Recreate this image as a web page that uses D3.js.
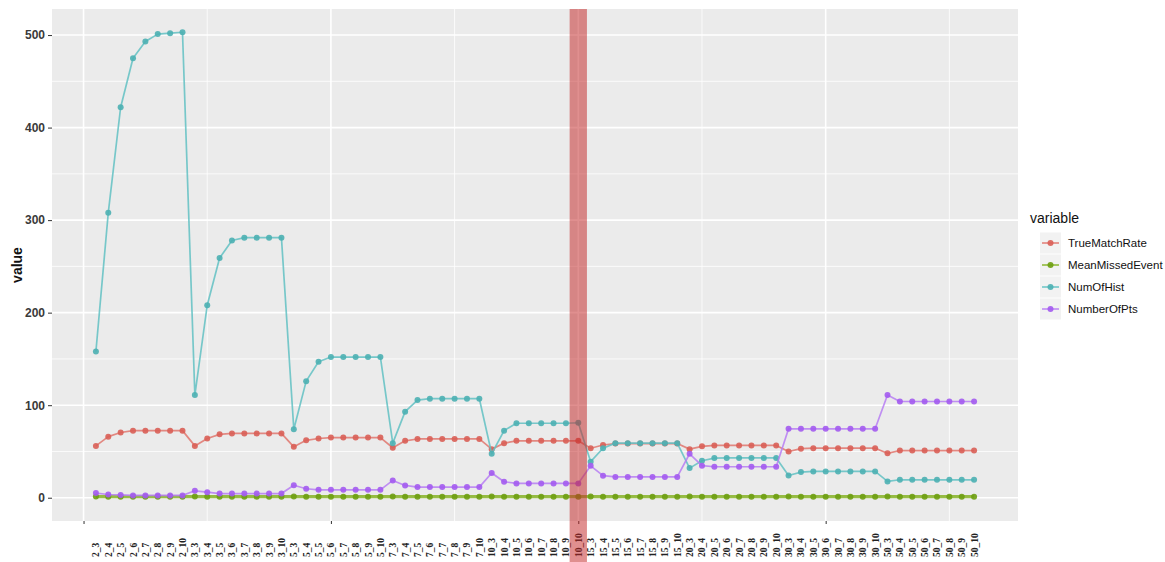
<!DOCTYPE html>
<html>
<head>
<meta charset="utf-8">
<script src="https://cdn.jsdelivr.net/npm/d3@7"></script>
<style>
  html, body { margin: 0; padding: 0; background: #ffffff; }
  svg { display: block; }
</style>
</head>
<body>
<svg id="chart" width="1165" height="562"></svg>
<script>
// Parameter combinations (first_second), in plotting order
const groupsA = ["2", "3", "5", "7", "10", "15", "20", "30", "50"];
const groupsB = ["3", "4", "5", "6", "7", "8", "9", "10"];
const categories = [];
groupsA.forEach(a => groupsB.forEach(b => categories.push(a + "_" + b)));

const seriesNames = ["TrueMatchRate", "MeanMissedEvent", "NumOfHist", "NumberOfPts"];
const lineColors = ["#E0776F", "#86B326", "#62C1C3", "#B77EF3"];
const pointColors = ["#D95F57", "#6E9E12", "#4DB0B2", "#A35BEF"];

const trueMatchRate = [
  56, 66, 70.5, 72.5, 72.5, 72.5, 72.5, 72.5,
  56, 64, 68.5, 69.5, 69.5, 69.5, 69.5, 69.5,
  55, 62, 64, 65, 65, 65, 65, 65,
  54, 61.5, 63.5, 63.5, 63.5, 63.5, 63.5, 63.5,
  52.5, 59, 61.5, 61.5, 61.5, 61.5, 61.5, 61.5,
  53.5, 57, 58.5, 58.5, 58.5, 58.5, 58.5, 58.5,
  52.5, 55.5, 56.5, 56.5, 56.5, 56.5, 56.5, 56.5,
  50, 53, 53.5, 53.5, 53.5, 53.5, 53.5, 53.5,
  48, 51, 51, 51, 51, 51, 51, 51
];
const meanMissedEvent = [
  1.2, 1.1, 1.1, 1.1, 1.1, 1.1, 1.1, 1.1,
  1.2, 1.1, 1.1, 1.1, 1.1, 1.1, 1.1, 1.1,
  1.2, 1.1, 1.1, 1.1, 1.1, 1.1, 1.1, 1.1,
  1.2, 1.1, 1.1, 1.1, 1.1, 1.1, 1.1, 1.1,
  1.2, 1.1, 1.1, 1.1, 1.1, 1.1, 1.1, 1.1,
  1.2, 1.1, 1.1, 1.1, 1.1, 1.1, 1.1, 1.1,
  1.2, 1.1, 1.1, 1.1, 1.1, 1.1, 1.1, 1.1,
  1.2, 1.1, 1.1, 1.1, 1.1, 1.1, 1.1, 1.1,
  1.2, 1.1, 1.1, 1.1, 1.1, 1.1, 1.1, 1.1
];
const numOfHist = [
  158, 308, 422, 475, 493, 501, 502, 503,
  111, 208, 259, 278, 281, 281, 281, 281,
  74, 126, 147, 152, 152, 152, 152, 152,
  59, 93, 105.5, 107, 107, 107, 107, 107,
  47.5, 72.5, 80.5, 80.5, 80.5, 80.5, 80.5, 81,
  39, 53.5, 59, 59, 59, 59, 59, 59,
  32, 40, 42.8, 43, 43, 43, 43, 43,
  24, 27.7, 28.4, 28.4, 28.4, 28.4, 28.4, 28.4,
  17.6, 19.4, 19.4, 19.4, 19.4, 19.4, 19.4, 19.4
];
const numberOfPts = [
  5, 3.5, 3, 2.5, 2.5, 2.5, 2.5, 2.5,
  7.5, 6, 4.5, 4.5, 4.5, 4.5, 4.5, 4.5,
  13.5, 9.7, 8.5, 8.5, 8.5, 8.5, 8.5, 8.5,
  18.7, 13.3, 11.5, 11.5, 11.5, 11.5, 11.5, 11.5,
  26.7, 17.3, 15.5, 15.5, 15.5, 15.5, 15.5, 15.5,
  34.5, 23.8, 22.5, 22.5, 22.5, 22.5, 22.5, 22.5,
  47.5, 34.6, 33.5, 33.5, 33.5, 33.5, 33.5, 33.5,
  74.5, 74.5, 74.5, 74.5, 74.5, 74.5, 74.5, 74.5,
  111, 104, 104, 104, 104, 104, 104, 104
];
const seriesValues = [trueMatchRate, meanMissedEvent, numOfHist, numberOfPts];

const yTicks = [0, 100, 200, 300, 400, 500];
const yMinor = [50, 150, 250, 350, 450];
const xTicks = [0, 20, 40, 60];
const xMinor = [10, 30, 50, 70];
const highlighted = "10_10";

const svg = d3.select("#chart");
const panel = { left: 52, right: 1018, top: 9, bottom: 521 };

const n = categories.length;
const xPad = (n - 1) * 0.05;
const x = d3.scaleLinear().domain([1 - xPad, n + xPad]).range([panel.left, panel.right]);
const yMax = d3.max(numOfHist);
const yPad = yMax * 0.05;
const y = d3.scaleLinear().domain([-yPad, yMax + yPad]).range([panel.bottom, panel.top]);

// panel background
svg.append("rect")
  .attr("x", panel.left).attr("y", panel.top)
  .attr("width", panel.right - panel.left).attr("height", panel.bottom - panel.top)
  .attr("fill", "#EBEBEB");

const grid = svg.append("g");
yMinor.forEach(v => grid.append("line")
  .attr("x1", panel.left).attr("x2", panel.right)
  .attr("y1", y(v)).attr("y2", y(v))
  .attr("stroke", "#fff").attr("stroke-width", 0.8));
xMinor.forEach(v => grid.append("line")
  .attr("y1", panel.top).attr("y2", panel.bottom)
  .attr("x1", x(v)).attr("x2", x(v))
  .attr("stroke", "#fff").attr("stroke-width", 0.8));
yTicks.forEach(v => grid.append("line")
  .attr("x1", panel.left).attr("x2", panel.right)
  .attr("y1", y(v)).attr("y2", y(v))
  .attr("stroke", "#fff").attr("stroke-width", 1.6));
xTicks.forEach(v => grid.append("line")
  .attr("y1", panel.top).attr("y2", panel.bottom)
  .attr("x1", x(v)).attr("x2", x(v))
  .attr("stroke", "#fff").attr("stroke-width", 1.6));

// series lines and points
const line = d3.line().x((d, i) => x(i + 1)).y(d => y(d));
seriesValues.forEach((vals, s) => {
  const g = svg.append("g");
  g.append("path")
    .datum(vals)
    .attr("d", line)
    .attr("fill", "none")
    .attr("stroke", lineColors[s])
    .attr("stroke-opacity", 0.85)
    .attr("stroke-width", s === 1 ? 3.2 : 1.7)
    .attr("stroke-linejoin", "round");
  g.selectAll("circle")
    .data(vals)
    .join("circle")
    .attr("cx", (d, i) => x(i + 1))
    .attr("cy", d => y(d))
    .attr("r", 3)
    .attr("fill", pointColors[s])
    .attr("fill-opacity", 0.9);
});

// y axis
const yAxis = d3.axisLeft(y).tickValues(yTicks).tickSize(4).tickPadding(3);
const ya = svg.append("g").attr("transform", `translate(${panel.left},0)`).call(yAxis);
ya.select(".domain").remove();
ya.selectAll("line").attr("stroke", "#333").attr("stroke-width", 1);
ya.selectAll("text")
  .attr("fill", "#3a3a3a")
  .attr("font-family", "Liberation Sans, Arial, sans-serif")
  .attr("font-size", 12).attr("font-weight", "bold");

// x axis ticks (no numeric labels)
const xAxis = d3.axisBottom(x).tickValues(xTicks).tickSize(3).tickFormat("");
const xa = svg.append("g").attr("transform", `translate(0,${panel.bottom})`).call(xAxis);
xa.select(".domain").remove();
xa.selectAll("line").attr("stroke", "#333");

// category labels
const lbl = svg.append("g");
categories.forEach((c, i) => {
  lbl.append("text")
    .attr("transform", `translate(${x(i + 1) + 3.5},557) rotate(-90)`)
    .attr("text-anchor", "start")
    .attr("font-family", "Liberation Serif, Times New Roman, serif")
    .attr("font-size", 9.5)
    .attr("font-weight", "bold")
    .attr("fill", "#222")
    .text(c);
});

// highlight band over the selected combination
const hi = categories.indexOf(highlighted) + 1;
svg.append("rect")
  .attr("x", x(hi - 0.7)).attr("y", panel.top)
  .attr("width", x(hi + 0.7) - x(hi - 0.7))
  .attr("height", 562 - panel.top)
  .attr("fill", "rgb(195,40,40)")
  .attr("fill-opacity", 0.52);

// y axis title
svg.append("text")
  .attr("transform", `translate(22,${(panel.top + panel.bottom) / 2}) rotate(-90)`)
  .attr("text-anchor", "middle")
  .attr("font-family", "Liberation Sans, Arial, sans-serif")
  .attr("font-size", 14)
  .attr("font-weight", "bold")
  .attr("fill", "#111")
  .text("value");

// legend
const lg = svg.append("g").attr("transform", "translate(1030,0)");
lg.append("text")
  .attr("x", 0).attr("y", 223)
  .attr("font-family", "Liberation Sans, Arial, sans-serif")
  .attr("font-size", 14).attr("fill", "#111")
  .text("variable");
seriesNames.forEach((name, s) => {
  const cy = 243 + s * 22;
  lg.append("rect").attr("x", 10).attr("y", cy - 10.5).attr("width", 21).attr("height", 21).attr("fill", "#F2F2F2");
  lg.append("line").attr("x1", 12).attr("x2", 29).attr("y1", cy).attr("y2", cy)
    .attr("stroke", lineColors[s]).attr("stroke-opacity", 0.85).attr("stroke-width", 1.7);
  lg.append("circle").attr("cx", 20.5).attr("cy", cy).attr("r", 3)
    .attr("fill", pointColors[s]).attr("fill-opacity", 0.9);
  lg.append("text")
    .attr("x", 38).attr("y", cy + 4)
    .attr("font-family", "Liberation Sans, Arial, sans-serif")
    .attr("font-size", 11.5).attr("fill", "#111")
    .text(name);
});
</script>
</body>
</html>
